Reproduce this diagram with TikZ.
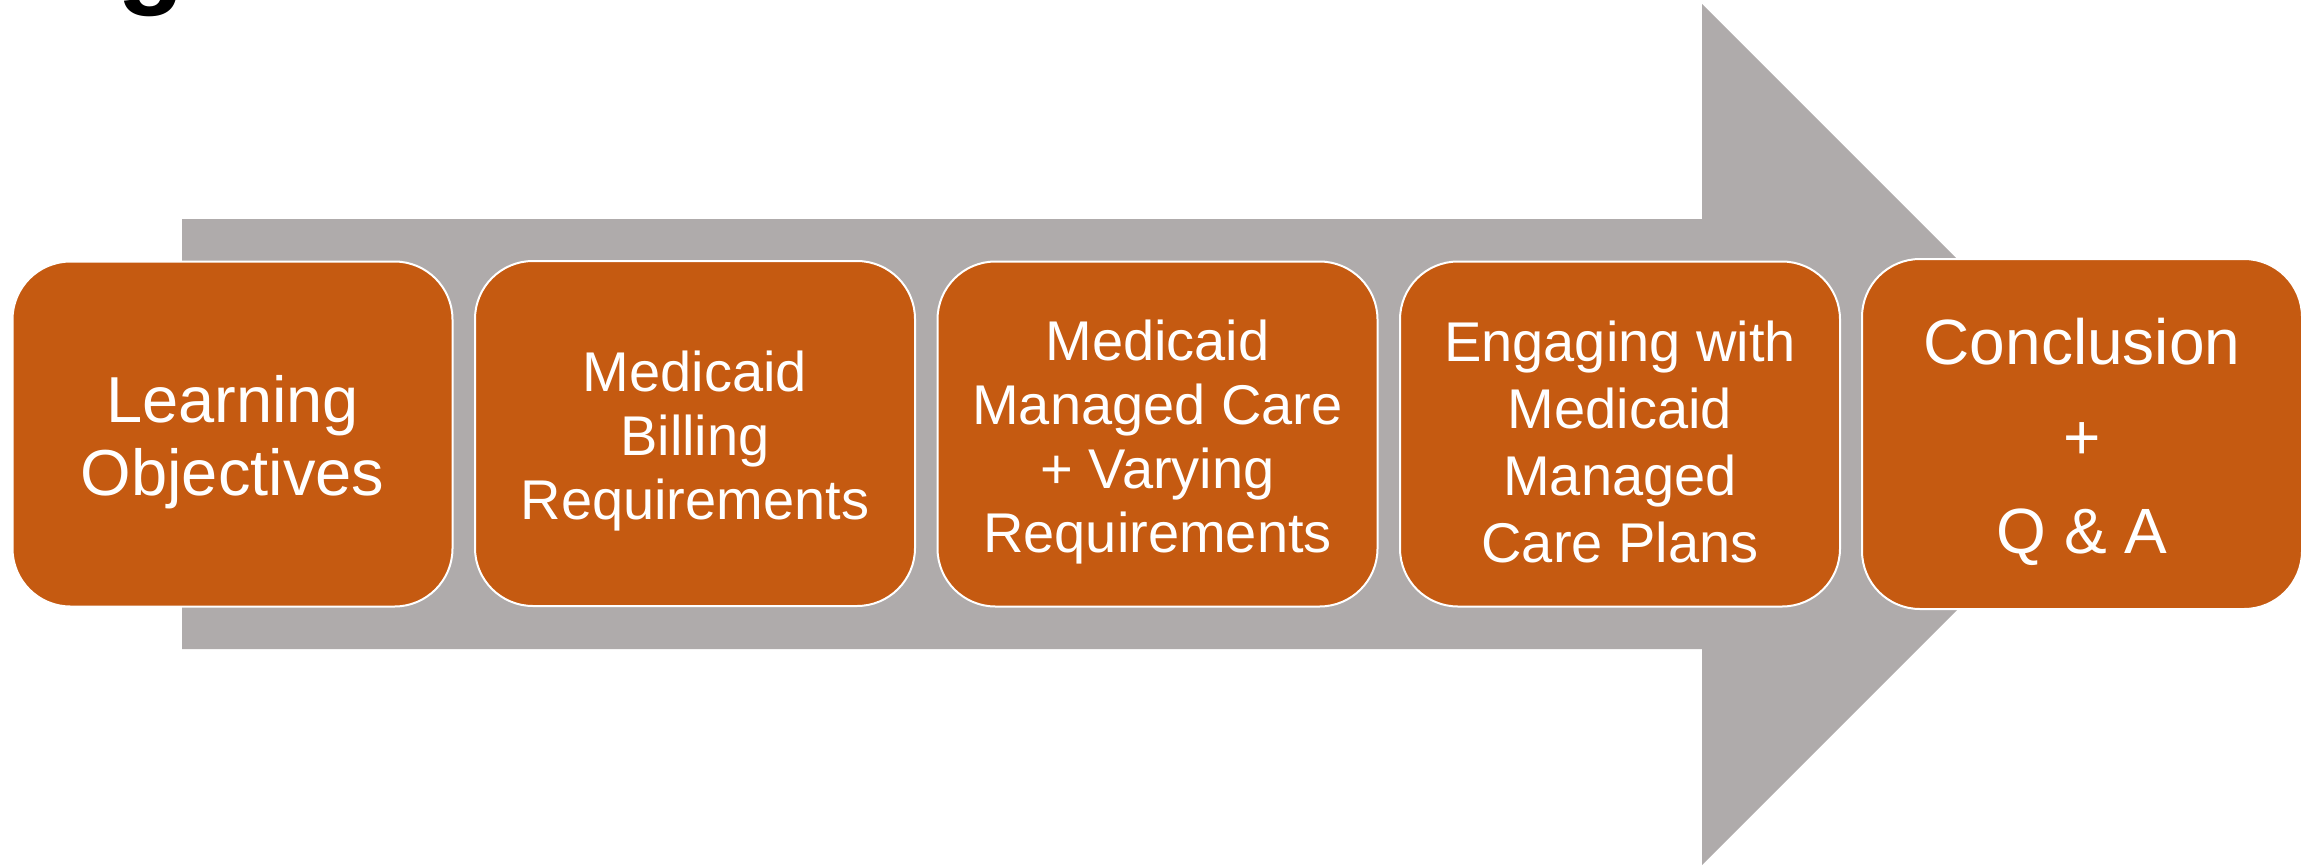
\documentclass[tikz,border=0pt]{standalone}
\usepackage{fontspec}
\setmainfont{Liberation Sans}
\definecolor{arrowgray}{HTML}{AFABAB}
\definecolor{boxorange}{HTML}{C55A11}
\tikzset{
  stagebox/.style={rectangle, rounded corners=58pt, fill=boxorange, draw=white,
    line width=2pt, minimum width=440pt, minimum height=345pt, inner sep=0pt},
  stagetext/.style={inner sep=0pt, text=white, align=center,
    font=\fontsize{56}{64}\selectfont},
}
\begin{document}
\begin{tikzpicture}[x=1pt,y=-1pt]
\useasboundingbox (0,0) rectangle (2318,865);
\begin{scope}
\clip (0,0) rectangle (2318,865);
\node[anchor=base, inner sep=0pt, font=\fontsize{110}{110}\bfseries\selectfont] (title) at (151,-7) {g};
\end{scope}
% big arrow
\fill[arrowgray] (182,219) -- (1702,219) -- (1702,4) -- (2132.5,434.5) -- (1702,865) -- (1702,649) -- (182,649) -- cycle;
% stages
\node[stagebox] (b1) at (232.5,434) {};
\node[stagebox] (b2) at (695,433.5) {};
\node[stagebox] (b3) at (1157.5,434) {};
\node[stagebox] (b4) at (1620,434) {};
\node[stagebox, minimum height=350pt] (b5) at (2082,434) {};
\node[stagetext, font=\fontsize{65}{73}\selectfont] (b1t) at ([yshift=-8pt]b1.center) {Learning\\Objectives};
\node[stagetext] (b2t) at ([yshift=-8pt]b2.center) {Medicaid\\Billing\\Requirements};
\node[stagetext] (b3t) at ([yshift=-8pt]b3.center) {Medicaid\\Managed Care\\+ Varying\\Requirements};
\node[stagetext, font=\fontsize{56}{67}\selectfont] (b4t) at ([yshift=-8pt]b4.center) {Engaging with\\Medicaid\\Managed\\Care Plans};
\node[stagetext, font=\fontsize{64}{94.5}\selectfont] (b5t) at ([yshift=-8pt]b5.center) {Conclusion\\+\\Q \& A};
\end{tikzpicture}
\end{document}
